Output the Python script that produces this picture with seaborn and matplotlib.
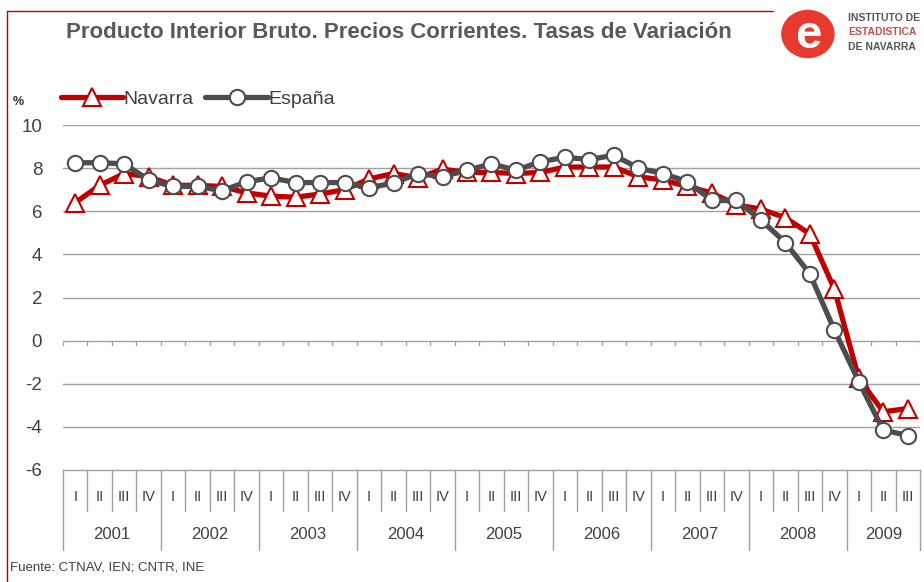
import matplotlib
matplotlib.use("Agg")
import matplotlib.pyplot as plt
import matplotlib.transforms as mtransforms
from matplotlib.lines import Line2D
from matplotlib.patches import Circle
import seaborn as sns
import pandas as pd
import numpy as np

years = ["2001", "2002", "2003", "2004", "2005", "2006", "2007", "2008", "2009"]
quarters = ["I", "II", "III", "IV"]
navarra = [6.4, 7.2, 7.75, 7.6, 7.2, 7.2, 7.15, 6.85, 6.7, 6.65, 6.8, 7.0,
           7.5, 7.75, 7.55, 7.95, 7.8, 7.8, 7.75, 7.8, 8.05, 8.05, 8.05, 7.6,
           7.45, 7.15, 6.85, 6.3, 6.1, 5.7, 4.95, 2.4, -1.75, -3.3, -3.15]
espana = [8.25, 8.25, 8.2, 7.45, 7.15, 7.15, 6.95, 7.37, 7.55, 7.33, 7.33, 7.33,
          7.1, 7.3, 7.75, 7.6, 7.9, 8.2, 7.9, 8.3, 8.5, 8.4, 8.6, 8.0,
          7.75, 7.37, 6.5, 6.5, 5.6, 4.55, 3.1, 0.5, -1.9, -4.15, -4.4]
yticks = [-6, -4, -2, 0, 2, 4, 6, 8, 10]

n = len(navarra)
q_labels = [quarters[i % 4] for i in range(n)]
y_labels = [years[i // 4] for i in range(n)]
df = pd.DataFrame({"idx": np.arange(n), "Navarra": navarra, "España": espana})

sns.set_theme(style="white")
plt.rcParams["font.family"] = ["Liberation Sans", "DejaVu Sans"]

RED = "#C00000"
GRAY = "#4D4D4D"
TXT = "#404040"

fig = plt.figure(figsize=(9.24, 5.82), dpi=100)
ax = fig.add_axes([63 / 924, 1 - 470 / 582, 857 / 924, 345 / 582])

sns.lineplot(data=df, x="idx", y="Navarra", ax=ax, color=RED, lw=3.8,
             marker="^", markersize=13, markerfacecolor="white",
             markeredgecolor=RED, markeredgewidth=1.5, zorder=3)
sns.lineplot(data=df, x="idx", y="España", ax=ax, color=GRAY, lw=3.8,
             marker="o", markersize=11, markerfacecolor="white",
             markeredgecolor=GRAY, markeredgewidth=1.5, zorder=4)

ax.set_xlim(-0.5, n - 0.5)
ax.set_ylim(-6, 10)
ax.set_yticks(yticks)
ax.set_yticklabels([str(v) for v in yticks], fontsize=13.5, color=TXT)
ax.tick_params(axis="y", length=0, pad=15)
ax.set_xticks([])
ax.set_xlabel("")
ax.set_ylabel("")
for s in ["left", "right", "top"]:
    ax.spines[s].set_visible(False)
ax.spines["bottom"].set_color("#A0A0A0")
ax.spines["bottom"].set_linewidth(1)
for v in yticks[1:]:
    ax.axhline(v, color="#A0A0A0", lw=1, zorder=1)

# small ticks on the zero line at category boundaries
for b in range(n + 1):
    ax.plot([b - 0.5, b - 0.5], [0, -0.22], color="#A0A0A0", lw=1, zorder=1)

# category axis (quarters and years)
trans = mtransforms.blended_transform_factory(ax.transData, ax.transAxes)
for i in range(n):
    ax.text(i, -0.078, q_labels[i], transform=trans, ha="center", va="center",
            fontsize=10.5, color=TXT)
for b in range(n + 1):
    is_year = (b % 4 == 0) or b == n
    y_end = -0.232 if is_year else -0.12
    ax.add_line(Line2D([b - 0.5, b - 0.5], [0, y_end], transform=trans,
                       color="#A0A0A0", lw=1, clip_on=False))
for k, yr in enumerate(years):
    idxs = [i for i in range(n) if y_labels[i] == yr]
    xc = (idxs[0] + idxs[-1]) / 2
    ax.text(xc, -0.188, yr, transform=trans, ha="center", va="center",
            fontsize=12, color=TXT)

# legend
handles = [
    Line2D([], [], color=RED, lw=3.8, marker="^", markersize=13,
           markerfacecolor="white", markeredgecolor=RED, markeredgewidth=1.5),
    Line2D([], [], color=GRAY, lw=3.8, marker="o", markersize=11,
           markerfacecolor="white", markeredgecolor=GRAY, markeredgewidth=1.5),
]
leg = fig.legend(handles, ["Navarra", "España"], loc="center left",
                 bbox_to_anchor=(43 / 924, 1 - 99 / 582), ncol=2, frameon=False,
                 handlelength=3.2, handletextpad=0.05, columnspacing=0.6,
                 prop={"size": 14})
for t in leg.get_texts():
    t.set_color(TXT)

# title and annotations
fig.text(66 / 924, 1 - 33 / 582, "Producto Interior Bruto. Precios Corrientes. Tasas de Variación",
         ha="left", va="center", fontsize=16, fontweight="bold", color="#595959")
fig.text(18 / 924, 1 - 102 / 582, "%", ha="center", va="center", fontsize=9,
         fontweight="bold", color="#333333")
fig.text(10 / 924, 1 - 567 / 582, "Fuente: CTNAV, IEN; CNTR, INE", ha="left",
         va="center", fontsize=9.5, color=TXT)

# red frame
fig.add_artist(Line2D([7 / 924, 7 / 924], [0, 1 - 11 / 582], color=RED, lw=1,
                      transform=fig.transFigure))
fig.add_artist(Line2D([7 / 924, 773 / 924], [1 - 11 / 582, 1 - 11 / 582], color=RED,
                      lw=1, transform=fig.transFigure))

# logo
lax = fig.add_axes([780 / 924, 1 - 62 / 582, 62 / 924, 56 / 582])
lax.set_xlim(0, 1)
lax.set_ylim(0, 1)
lax.axis("off")
lax.add_patch(Circle((0.45, 0.5), 0.42, color="#E8392E"))
lax.text(0.45, 0.47, "e", ha="center", va="center", fontsize=34, fontweight="bold",
         color="white")
fig.text(848 / 924, 1 - 18 / 582, "INSTITUTO DE", fontsize=7.5, fontweight="bold",
         color="#555555", va="center", ha="left")
fig.text(848 / 924, 1 - 32 / 582, "ESTADISTICA", fontsize=7.5, fontweight="bold",
         color="#C0504D", va="center", ha="left")
fig.text(848 / 924, 1 - 47 / 582, "DE NAVARRA", fontsize=7.5, fontweight="bold",
         color="#555555", va="center", ha="left")

fig.savefig("out.png", dpi=100, facecolor="white")
